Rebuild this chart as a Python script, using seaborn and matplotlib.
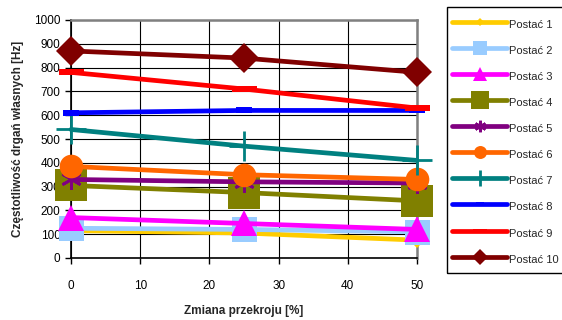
import matplotlib
matplotlib.use("Agg")
import matplotlib.pyplot as plt
from matplotlib.patches import Rectangle
import seaborn as sns
import pandas as pd

sns.set_theme(style="white")
plt.rcParams['font.family'] = ['Liberation Sans', 'DejaVu Sans']

zmiana = [0, 25, 50]
labels = ["Postać 1", "Postać 2", "Postać 3", "Postać 4", "Postać 5",
          "Postać 6", "Postać 7", "Postać 8", "Postać 9", "Postać 10"]
postac1 = [115, 105, 75]
postac2 = [125, 120, 110]
postac3 = [170, 145, 120]
postac4 = [305, 275, 240]
postac5 = [330, 320, 315]
postac6 = [385, 350, 330]
postac7 = [540, 470, 410]
postac8 = [610, 620, 620]
postac9 = [780, 710, 630]
postac10 = [870, 840, 780]
series = [postac1, postac2, postac3, postac4, postac5,
          postac6, postac7, postac8, postac9, postac10]

colors = ["#FFCC00", "#99CCFF", "#FF00FF", "#808000", "#800080",
          "#FF6600", "#008080", "#0000FF", "#FF0000", "#800000"]
rect8 = [(-1.25, -0.5), (1.25, -0.5), (1.25, 0.5), (-1.25, 0.5)]
rect9 = [(-1.8, -0.5), (1.8, -0.5), (1.8, 0.5), (-1.8, 0.5)]
markers = ['D', 's', '^', 's', (6, 2, 0), 'o', '+', rect8, rect9, 'D']
msizes = [8, 18, 19, 23, 15, 17, 22, 11, 18, 15]
mews = [0, 0, 0, 0, 2, 0, 2, 0, 0, 0]

df = pd.DataFrame({"x": zmiana * len(series),
                   "y": [v for s in series for v in s],
                   "lab": [l for l in labels for _ in zmiana]})

fig = plt.figure(figsize=(5.62, 3.2), dpi=100)
ax = fig.add_axes([71/562, 1-258/320, (417-71)/562, (258-20)/320])

for i, lab in enumerate(labels):
    sub = df[df["lab"] == lab]
    sns.lineplot(data=sub, x="x", y="y", ax=ax, color=colors[i], lw=3.4,
                 marker=markers[i], markersize=msizes[i],
                 markeredgewidth=mews[i], markeredgecolor=colors[i],
                 label=lab, zorder=3 + i, clip_on=False)

ax.set_xlim(0, 50)
ax.set_ylim(0, 1000)
ax.set_xticks(range(0, 51, 10))
ax.set_yticks(range(0, 1001, 100))
ax.grid(True, color="black", lw=0.8)
ax.set_axisbelow(True)
for s in ["left", "bottom"]:
    ax.spines[s].set_color("black")
    ax.spines[s].set_linewidth(1.2)
for s in ["top", "right"]:
    ax.spines[s].set_color("#808080")
    ax.spines[s].set_linewidth(1.8)
ax.tick_params(axis="both", labelsize=8.5, colors="black", length=4,
               width=1, direction="out", left=True, bottom=True)
ax.tick_params(axis="x", pad=12)
ax.set_xlabel("Zmiana przekroju [%]", fontsize=8.5, fontweight="bold", labelpad=9)
ax.set_ylabel("Częstotliwość drgań własnych [Hz]", fontsize=8.5, fontweight="bold", labelpad=7)

# legend frame drawn separately
fig.patches.append(Rectangle((447/562, 1-273/320), 130/562, 266/320,
                             transform=fig.transFigure, fill=False,
                             edgecolor="black", lw=1, zorder=20))

leg = ax.legend(loc="upper left", bbox_to_anchor=(447/562, 1-11/320),
                bbox_transform=fig.transFigure, fontsize=8, handlelength=4.95,
                handleheight=2.0, handletextpad=0.18, labelspacing=0.8,
                markerscale=0.55, frameon=False,
                borderpad=0.45, borderaxespad=0)

fig.savefig("out.png", dpi=100)
